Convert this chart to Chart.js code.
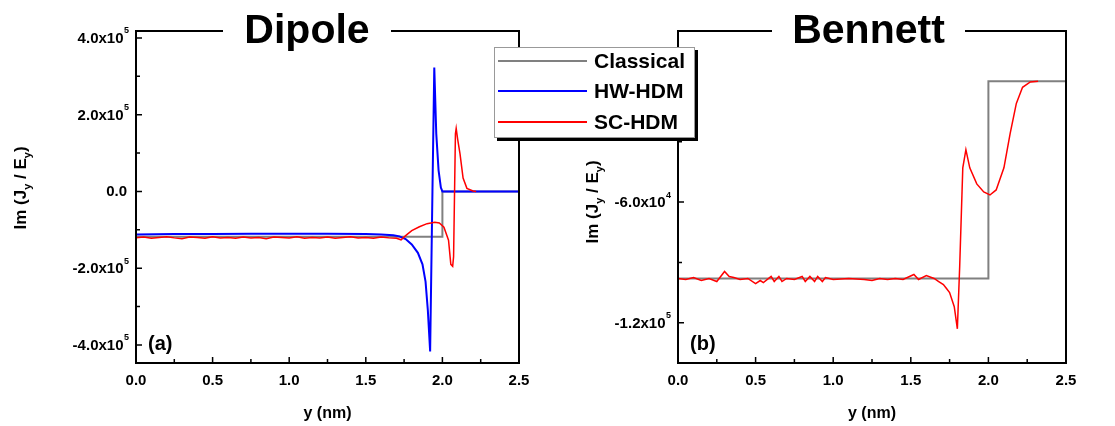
<!DOCTYPE html>
<html>
<head>
<meta charset="utf-8">
<script src="https://cdn.jsdelivr.net/npm/chart.js@4.4.1/dist/chart.umd.min.js"></script>
<style>
  body { margin: 0; background: #fff; width: 1115px; height: 426px; overflow: hidden; position: relative;
         font-family: "Liberation Sans", Arial, sans-serif; }
  #dipole { position: absolute; left: 0; top: 0; }
  #bennett { position: absolute; left: 560px; top: 0; }
  #legend { position: absolute; left: 494px; top: 47px; width: 199px; height: 89px; background: #fff;
            border: 1px solid #999; box-shadow: 3px 3px 0 #000; }
  #legend .row { position: absolute; left: 0; height: 24px; width: 199px; }
  #legend .swatch { position: absolute; left: 3px; top: 11px; width: 89px; height: 2px; }
  #legend .txt { position: absolute; left: 99px; top: 0; line-height: 24px; font-size: 21px; font-weight: bold; color: #000; }
</style>
</head>
<body>
<canvas id="dipole" width="560" height="426"></canvas>
<canvas id="bennett" width="555" height="426"></canvas>
<div id="legend">
  <div class="row" style="top:1px"><div class="swatch" style="background:#808080"></div><div class="txt">Classical</div></div>
  <div class="row" style="top:31px"><div class="swatch" style="background:#0000ff"></div><div class="txt">HW-HDM</div></div>
  <div class="row" style="top:62px"><div class="swatch" style="background:#ff0000"></div><div class="txt">SC-HDM</div></div>
</div>
<script>
// ---- data ----
const dipoleClassicalX = [0, 2.0, 2.0, 2.5];
const dipoleClassicalY = [-1.18e5, -1.18e5, 0, 0];

const dipoleHwX = [0, 0.25, 0.5, 0.75, 1.0, 1.25, 1.5, 1.6, 1.68, 1.72, 1.76, 1.8, 1.84, 1.87, 1.89, 1.905,
                   1.92, 1.935, 1.947, 1.96, 1.975, 1.99, 2.0, 2.5];
const dipoleHwY = [-1.12e5, -1.11e5, -1.11e5, -1.1e5, -1.1e5, -1.1e5, -1.11e5, -1.12e5, -1.14e5, -1.17e5,
                   -1.24e5, -1.38e5, -1.6e5, -1.9e5, -2.35e5, -3.1e5, -4.17e5, 0, 3.23e5, 1.5e5, 5.5e4, 1e4, 0, 0];

const dipoleScX = [0, 0.05, 0.1, 0.15, 0.2, 0.25, 0.3, 0.35, 0.4, 0.45, 0.5, 0.55, 0.6, 0.65, 0.7, 0.75, 0.8,
                   0.85, 0.9, 0.95, 1.0, 1.05, 1.1, 1.15, 1.2, 1.25, 1.3, 1.35, 1.4, 1.45, 1.5, 1.55, 1.6, 1.65,
                   1.7, 1.73, 1.76, 1.8, 1.85, 1.9, 1.95, 1.98, 2.01, 2.04, 2.055, 2.067, 2.073, 2.085, 2.09,
                   2.1, 2.115, 2.135, 2.16, 2.2, 2.22];
const dipoleScY = [-1.21e5, -1.19e5, -1.22e5, -1.2e5, -1.18e5, -1.21e5, -1.23e5, -1.19e5, -1.2e5, -1.22e5,
                   -1.18e5, -1.21e5, -1.2e5, -1.22e5, -1.19e5, -1.21e5, -1.2e5, -1.23e5, -1.19e5, -1.2e5,
                   -1.21e5, -1.18e5, -1.22e5, -1.2e5, -1.21e5, -1.19e5, -1.22e5, -1.2e5, -1.18e5, -1.21e5,
                   -1.2e5, -1.22e5, -1.19e5, -1.21e5, -1.22e5, -1.26e5, -1.15e5, -1.02e5, -9.2e4, -8.4e4,
                   -8.0e4, -8.2e4, -9.3e4, -1.27e5, -1.9e5, -1.95e5, -1.7e5, 1.5e5, 1.64e5, 1.35e5, 9.8e4,
                   3.5e4, 8e3, 1e3, 0];

const bennettClassicalX = [0, 2.0, 2.0, 2.5];
const bennettClassicalY = [-9.8e4, -9.8e4, 0, 0];

const bennettScX = [0, 0.05, 0.1, 0.15, 0.2, 0.25, 0.3, 0.33, 0.36, 0.4, 0.45, 0.5, 0.53, 0.55, 0.6, 0.62,
                    0.65, 0.67, 0.7, 0.75, 0.8, 0.82, 0.85, 0.88, 0.9, 0.93, 0.95, 1.0, 1.1, 1.2, 1.25, 1.3,
                    1.35, 1.4, 1.45, 1.52, 1.55, 1.6, 1.65, 1.68, 1.71, 1.73, 1.75, 1.78, 1.8, 1.815, 1.835,
                    1.855, 1.88, 1.925, 1.97, 2.01, 2.05, 2.1, 2.14, 2.18, 2.22, 2.27, 2.32];
const bennettScY = [-9.8e4, -9.85e4, -9.75e4, -9.9e4, -9.8e4, -9.95e4, -9.45e4, -9.7e4, -9.75e4, -9.85e4,
                    -9.8e4, -1.005e5, -9.9e4, -1.0e5, -9.7e4, -9.95e4, -9.7e4, -9.95e4, -9.8e4, -9.85e4,
                    -9.7e4, -9.95e4, -9.7e4, -9.95e4, -9.7e4, -9.95e4, -9.75e4, -9.85e4, -9.8e4, -9.85e4,
                    -9.9e4, -9.8e4, -9.85e4, -9.8e4, -9.85e4, -9.6e4, -9.85e4, -9.65e4, -9.8e4, -9.95e4,
                    -1.01e5, -1.03e5, -1.05e5, -1.12e5, -1.23e5, -9.2e4, -4.3e4, -3.4e4, -4.3e4, -5.1e4,
                    -5.5e4, -5.65e4, -5.4e4, -4.3e4, -2.6e4, -1.1e4, -3e3, -3e2, 0];

const xTicks = [0, 0.5, 1.0, 1.5, 2.0, 2.5];
const dipoleYTicks = [-4e5, -2e5, 0, 2e5, 4e5];
const bennettYTicks = [-1.2e5, -6e4, 0];

// ---- helpers ----
const FAMILY = '"Liberation Sans", Arial, sans-serif';

function pts(xs, ys) {
  return xs.map((x, i) => ({ x: x, y: ys[i] }));
}

function drawRich(ctx, parts, cx, cy, angle) {
  ctx.save();
  ctx.translate(cx, cy);
  ctx.rotate(angle);
  let total = 0;
  parts.forEach(p => {
    ctx.font = 'bold ' + p.size + 'px ' + FAMILY;
    p.w = ctx.measureText(p.t).width;
    total += p.w;
  });
  let x = -total / 2;
  ctx.textBaseline = 'alphabetic';
  ctx.textAlign = 'left';
  parts.forEach(p => {
    ctx.font = 'bold ' + p.size + 'px ' + FAMILY;
    ctx.fillText(p.t, x, 6 + (p.dy || 0));
    x += p.w;
  });
  ctx.restore();
}

const framePlugin = {
  id: 'frame',
  afterDraw(chart, args, o) {
    const ctx = chart.ctx, a = chart.chartArea;
    const xs = chart.scales.x, ys = chart.scales.y;
    ctx.save();
    ctx.fillStyle = '#000';
    ctx.strokeStyle = '#000';
    ctx.lineWidth = 2;
    ctx.lineCap = 'square';
    ctx.beginPath();
    ctx.moveTo(o.gap[0], a.top);
    ctx.lineTo(a.left, a.top);
    ctx.lineTo(a.left, a.bottom);
    ctx.lineTo(a.right, a.bottom);
    ctx.lineTo(a.right, a.top);
    ctx.lineTo(o.gap[1], a.top);
    ctx.stroke();

    // inward ticks
    ctx.lineWidth = 1.5;
    ctx.lineCap = 'butt';
    ctx.beginPath();
    const xv = xs.ticks.map(t => t.value);
    xv.forEach((v, i) => {
      const px = xs.getPixelForValue(v);
      ctx.moveTo(px, a.bottom); ctx.lineTo(px, a.bottom - 6);
      if (i < xv.length - 1) {
        const pm = xs.getPixelForValue((v + xv[i + 1]) / 2);
        ctx.moveTo(pm, a.bottom); ctx.lineTo(pm, a.bottom - 4);
      }
    });
    const yv = ys.ticks.map(t => t.value);
    const step = yv[1] - yv[0];
    const minors = [];
    yv.forEach(v => { minors.push(v - step / 2); });
    minors.push(yv[yv.length - 1] + step / 2);
    yv.forEach(v => {
      const py = ys.getPixelForValue(v);
      ctx.moveTo(a.left, py); ctx.lineTo(a.left + 6, py);
    });
    minors.forEach(v => {
      if (v < ys.min || v > ys.max) return;
      const py = ys.getPixelForValue(v);
      ctx.moveTo(a.left, py); ctx.lineTo(a.left + 4, py);
    });
    ctx.stroke();

    // y tick labels with powers of ten
    ctx.textBaseline = 'middle';
    yv.forEach(v => {
      const py = ys.getPixelForValue(v);
      const right = a.left - 7;
      if (v === 0) {
        ctx.font = 'bold 15px ' + FAMILY;
        ctx.textAlign = 'right';
        ctx.fillText('0.0', right - 2, py);
        return;
      }
      const e = Math.floor(Math.log10(Math.abs(v)) + 1e-9);
      const m = v / Math.pow(10, e);
      const main = m.toFixed(1) + 'x10';
      ctx.font = 'bold 9px ' + FAMILY;
      const ws = ctx.measureText(String(e)).width;
      ctx.textAlign = 'left';
      ctx.fillText(String(e), right - ws, py - 7);
      ctx.font = 'bold 15px ' + FAMILY;
      ctx.textAlign = 'right';
      ctx.fillText(main, right - ws - 0.5, py + 1);
    });

    // panel title over the top line
    ctx.font = 'bold 41px ' + FAMILY;
    ctx.textAlign = 'center';
    ctx.textBaseline = 'alphabetic';
    ctx.fillText(o.title, (o.gap[0] + o.gap[1]) / 2, 43);

    // panel tag
    ctx.font = 'bold 20px ' + FAMILY;
    ctx.textAlign = 'left';
    ctx.textBaseline = 'middle';
    ctx.fillText(o.tag, a.left + 12, 344);

    // y axis title
    drawRich(ctx, [
      { t: 'Im (J', size: 17 },
      { t: 'y', size: 11, dy: 5 },
      { t: ' / E', size: 17 },
      { t: 'y', size: 11, dy: 5 },
      { t: ')', size: 17 }
    ], o.yTitle[0], o.yTitle[1], -Math.PI / 2);
    ctx.restore();
  }
};

function makePanel(id, datasets, yMin, yMax, yTicks, o) {
  return new Chart(document.getElementById(id), {
    type: 'line',
    data: { datasets: datasets },
    options: {
      responsive: false,
      animation: false,
      layout: { padding: { left: 0, right: o.padRight, top: 31, bottom: 0 } },
      elements: { point: { radius: 0 }, line: { tension: 0 } },
      plugins: {
        legend: { display: false },
        tooltip: { enabled: false },
        frame: o
      },
      scales: {
        x: {
          type: 'linear', min: 0, max: 2.5,
          grid: { display: false, drawTicks: false },
          border: { display: false },
          afterBuildTicks: s => { s.ticks = xTicks.map(v => ({ value: v })); },
          ticks: {
            padding: 9, color: '#000', maxRotation: 0, autoSkip: false,
            font: { family: FAMILY, size: 15, weight: 'bold' },
            callback: v => Number(v).toFixed(1)
          },
          title: {
            display: true, text: 'y (nm)', color: '#000',
            font: { family: FAMILY, size: 16, weight: 'bold' },
            padding: { top: 0, bottom: 3 }
          },
          afterFit: s => { s.height = 63; }
        },
        y: {
          type: 'linear', min: yMin, max: yMax,
          grid: { display: false, drawTicks: false },
          border: { display: false },
          afterBuildTicks: s => { s.ticks = yTicks.map(v => ({ value: v })); },
          ticks: { display: false },
          afterFit: s => { s.width = o.yWidth; }
        }
      }
    },
    plugins: [framePlugin]
  });
}

makePanel('dipole', [
  { data: pts(dipoleScX, dipoleScY), borderColor: '#ff0000', borderWidth: 1.5 },
  { data: pts(dipoleHwX, dipoleHwY), borderColor: '#0000ff', borderWidth: 2 },
  { data: pts(dipoleClassicalX, dipoleClassicalY), borderColor: '#808080', borderWidth: 2 }
], -4.47e5, 4.18e5, dipoleYTicks, {
  title: 'Dipole', tag: '(a)', gap: [222, 392], yTitle: [20, 188], yWidth: 136, padRight: 41
});

makePanel('bennett', [
  { data: pts(bennettScX, bennettScY), borderColor: '#ff0000', borderWidth: 1.5 },
  { data: pts(bennettClassicalX, bennettClassicalY), borderColor: '#808080', borderWidth: 2 }
], -1.4e5, 2.5e4, bennettYTicks, {
  title: 'Bennett', tag: '(b)', gap: [211, 406], yTitle: [32, 202], yWidth: 118, padRight: 49
});
</script>
</body>
</html>
